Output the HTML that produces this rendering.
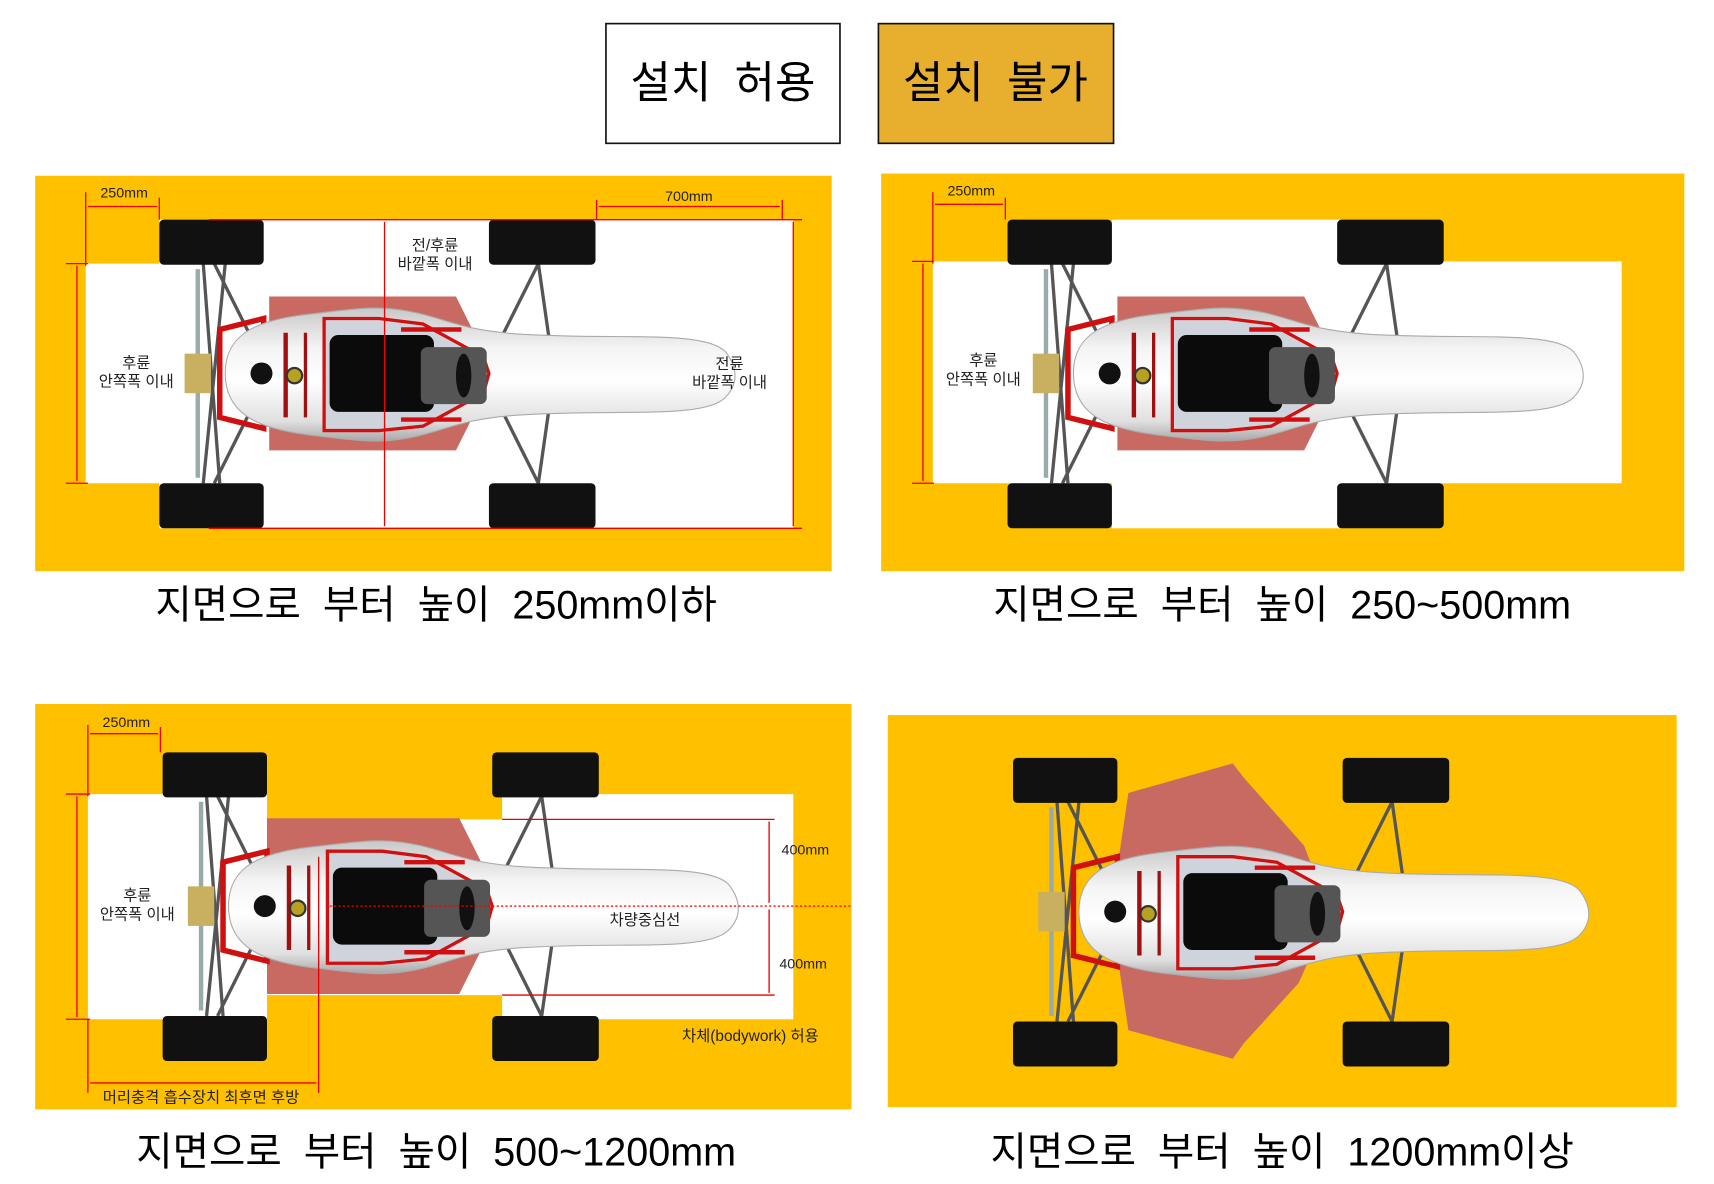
<!DOCTYPE html>
<html><head><meta charset="utf-8"><style>
html,body{margin:0;padding:0;background:#fff;width:1714px;height:1184px;overflow:hidden}
svg{display:block}
text{font-family:"Liberation Sans","Noto Sans CJK KR",sans-serif}
.cap{word-spacing:10px}
</style></head><body>
<svg width="1714" height="1184" viewBox="0 0 1560 1078" preserveAspectRatio="none" xmlns="http://www.w3.org/2000/svg">
<defs>
<linearGradient id="bg" x1="0" y1="0" x2="0" y2="1">
<stop offset="0" stop-color="#c8c8c8"/><stop offset="0.3" stop-color="#f4f4f4"/><stop offset="0.55" stop-color="#ffffff"/><stop offset="0.85" stop-color="#e0e0e0"/><stop offset="1" stop-color="#a8a8a8"/>
</linearGradient>
<g id="car">
 <g stroke="#555" stroke-width="3" fill="none">
  <line x1="185" y1="240" x2="200" y2="440"/>
  <line x1="195" y1="240" x2="240" y2="330"/>
  <line x1="195" y1="440" x2="240" y2="350"/>
  <line x1="205" y1="240" x2="185" y2="440"/>
  <line x1="490" y1="240" x2="455" y2="310"/>
  <line x1="490" y1="240" x2="500" y2="310"/>
  <line x1="490" y1="440" x2="455" y2="370"/>
  <line x1="490" y1="440" x2="500" y2="370"/>
 </g>
 <line x1="180" y1="245" x2="180" y2="435" stroke="#9aa" stroke-width="4"/>
 <g fill="#111">
  <rect x="145" y="200" width="95" height="41" rx="4"/>
  <rect x="145" y="440" width="95" height="41" rx="4"/>
  <rect x="445" y="200" width="97" height="41" rx="4"/>
  <rect x="445" y="440" width="97" height="41" rx="4"/>
 </g>
 <path d="M200,300 L240,290 L240,390 L200,380 Z" fill="none" stroke="#d01010" stroke-width="5"/>
 <rect x="168" y="322" width="24" height="36" fill="#c8b060"/>
 <path d="M205,340 C205,300 240,290 290,285 C330,280 350,278 380,285 C410,292 420,300 470,304 C560,310 640,300 660,320 C672,335 672,350 660,362 C640,382 560,372 470,378 C420,382 410,390 380,397 C350,404 330,402 290,397 C240,392 205,380 205,340 Z" fill="url(#bg)" stroke="#aaa" stroke-width="1"/>
 <path d="M295,290 L345,290 L385,295 L440,325 L445,340 L440,358 L385,388 L345,392 L295,392 Z" fill="#cfd4dc" stroke="#d01010" stroke-width="3"/>
 <rect x="300" y="305" width="95" height="70" rx="8" fill="#0b0b0b"/>
 <rect x="383" y="316" width="60" height="52" rx="6" fill="#555"/>
 <ellipse cx="422" cy="342" rx="7" ry="20" fill="#111"/>
 <line x1="260" y1="303" x2="260" y2="380" stroke="#a01010" stroke-width="4"/>
 <line x1="278" y1="303" x2="278" y2="380" stroke="#a01010" stroke-width="3"/>
 <circle cx="238" cy="340" r="10" fill="#111"/>
 <circle cx="268" cy="342" r="7" fill="#b8a020" stroke="#333" stroke-width="2"/>
 <line x1="365" y1="300" x2="420" y2="300" stroke="#d01010" stroke-width="4"/>
 <line x1="365" y1="382" x2="420" y2="382" stroke="#d01010" stroke-width="4"/>
</g>
</defs>

<rect x="551.5" y="21.5" width="213" height="109" fill="#fff" stroke="#111" stroke-width="1.5"/>
<text x="658" y="89" font-size="40" text-anchor="middle" fill="#000" style="word-spacing:10px">설치 허용</text>
<rect x="799.5" y="21.5" width="214" height="109" fill="#E8AF2E" stroke="#111" stroke-width="1.5"/>
<text x="906" y="89" font-size="40" text-anchor="middle" fill="#000" style="word-spacing:10px">설치 불가</text>

<rect x="32" y="160" width="725" height="360" fill="#FFC000"/>
<path d="M78,240 L145,240 L145,200 L722,200 L722,481 L145,481 L145,440 L78,440 Z" fill="#fff"/>
<path d="M245,270 L415,270 L430,300 L430,380 L415,410 L245,410 Z" fill="#c86a62"/>
<use href="#car"/>
<g stroke="#e00" stroke-width="1.2" fill="none">
 <line x1="78" y1="175" x2="78" y2="242"/><line x1="145" y1="180" x2="145" y2="200"/>
 <line x1="80" y1="188" x2="143" y2="188"/>
 <line x1="60" y1="240" x2="80" y2="240"/><line x1="60" y1="440" x2="80" y2="440"/>
 <line x1="70" y1="242" x2="70" y2="438"/>
 <line x1="543" y1="182" x2="543" y2="200"/><line x1="712" y1="182" x2="712" y2="200"/>
 <line x1="545" y1="188" x2="710" y2="188"/>
 <line x1="722" y1="202" x2="722" y2="479"/>
 <line x1="190" y1="200" x2="730" y2="200"/><line x1="190" y1="481" x2="730" y2="481"/>
 <line x1="350" y1="202" x2="350" y2="479"/>
</g>
<text x="113" y="180" font-size="13" text-anchor="middle" fill="#222">250mm</text>
<text x="627" y="183" font-size="13" text-anchor="middle" fill="#222">700mm</text>
<text x="396" y="228" font-size="14" text-anchor="middle" fill="#222">전/후륜</text>
<text x="396" y="245" font-size="14" text-anchor="middle" fill="#222">바깥폭 이내</text>
<text x="124" y="335" font-size="14" text-anchor="middle" fill="#222">후륜</text>
<text x="124" y="352" font-size="14" text-anchor="middle" fill="#222">안쪽폭 이내</text>
<text x="664" y="336" font-size="14" text-anchor="middle" fill="#222">전륜</text>
<text x="664" y="353" font-size="14" text-anchor="middle" fill="#222">바깥폭 이내</text>
<text class="cap" x="397" y="563" font-size="36" text-anchor="middle" fill="#000">지면으로 부터 높이 250mm이하</text>

<rect x="802" y="158" width="731" height="362" fill="#FFC000"/>
<rect x="849" y="238" width="627" height="202" fill="#fff"/>
<rect x="1012" y="200" width="208" height="281" fill="#fff"/>
<g transform="translate(772,0)">
<path d="M245,270 L415,270 L430,300 L430,380 L415,410 L245,410 Z" fill="#c86a62"/>
<use href="#car"/>
</g>
<g stroke="#e00" stroke-width="1.2" fill="none">
 <line x1="849" y1="175" x2="849" y2="240"/><line x1="915" y1="180" x2="915" y2="200"/>
 <line x1="851" y1="186" x2="913" y2="186"/>
 <line x1="830" y1="238" x2="850" y2="238"/><line x1="830" y1="440" x2="850" y2="440"/>
 <line x1="840" y1="240" x2="840" y2="438"/>
</g>
<text x="884" y="178" font-size="13" text-anchor="middle" fill="#222">250mm</text>
<text x="895" y="333" font-size="14" text-anchor="middle" fill="#222">후륜</text>
<text x="895" y="350" font-size="14" text-anchor="middle" fill="#222">안쪽폭 이내</text>
<text class="cap" x="1167" y="563" font-size="36" text-anchor="middle" fill="#000">지면으로 부터 높이 250~500mm</text>

<rect x="32" y="641" width="743" height="369" fill="#FFC000"/>
<path d="M80,723 L243,723 L243,746 L457,746 L457,723 L722,723 L722,928 L457,928 L457,906 L243,906 L243,928 L80,928 Z" fill="#fff"/>
<g transform="translate(3,485)">
<path d="M240,260 L415,260 L435,300 L435,380 L415,420 L240,420 Z" fill="#c86a62"/>
<use href="#car"/>
</g>
<g stroke="#e00" stroke-width="1.2" fill="none">
 <line x1="80" y1="660" x2="80" y2="725"/><line x1="146" y1="662" x2="146" y2="685"/>
 <line x1="82" y1="668" x2="144" y2="668"/>
 <line x1="60" y1="723" x2="82" y2="723"/><line x1="60" y1="928" x2="82" y2="928"/>
 <line x1="70" y1="725" x2="70" y2="926"/>
 <line x1="80" y1="928" x2="80" y2="995"/><line x1="290" y1="780" x2="290" y2="995"/>
 <line x1="82" y1="986" x2="288" y2="986"/>
 <line x1="457" y1="746" x2="705" y2="746"/><line x1="457" y1="906" x2="705" y2="906"/>
 <line x1="700" y1="748" x2="700" y2="822"/><line x1="700" y1="828" x2="700" y2="904"/>
 <line x1="300" y1="825" x2="775" y2="825" stroke-dasharray="2,2"/>
</g>
<text x="115" y="662" font-size="13" text-anchor="middle" fill="#222">250mm</text>
<text x="733" y="778" font-size="13" text-anchor="middle" fill="#222">400mm</text>
<text x="731" y="882" font-size="13" text-anchor="middle" fill="#222">400mm</text>
<text x="587" y="842" font-size="14" text-anchor="middle" fill="#222">차량중심선</text>
<text x="125" y="820" font-size="14" text-anchor="middle" fill="#222">후륜</text>
<text x="125" y="837" font-size="14" text-anchor="middle" fill="#222">안쪽폭 이내</text>
<text x="683" y="948" font-size="14" text-anchor="middle" fill="#222">차체(bodywork) 허용</text>
<text x="183" y="1004" font-size="14" text-anchor="middle" fill="#222">머리충격 흡수장치 최후면 후방</text>
<text class="cap" x="397" y="1061" font-size="36" text-anchor="middle" fill="#000">지면으로 부터 높이 500~1200mm</text>

<rect x="808" y="651" width="718" height="357" fill="#FFC000"/>
<g transform="translate(777,490)">
<path d="M250,232 L345,205 L355,218 L410,280 L425,320 L425,360 L405,405 L355,460 L345,474 L250,448 L240,380 L240,300 Z" fill="#c86a62"/>
<use href="#car"/>
</g>
<text class="cap" x="1167" y="1061" font-size="36" text-anchor="middle" fill="#000">지면으로 부터 높이 1200mm이상</text>
</svg>
</body></html>
